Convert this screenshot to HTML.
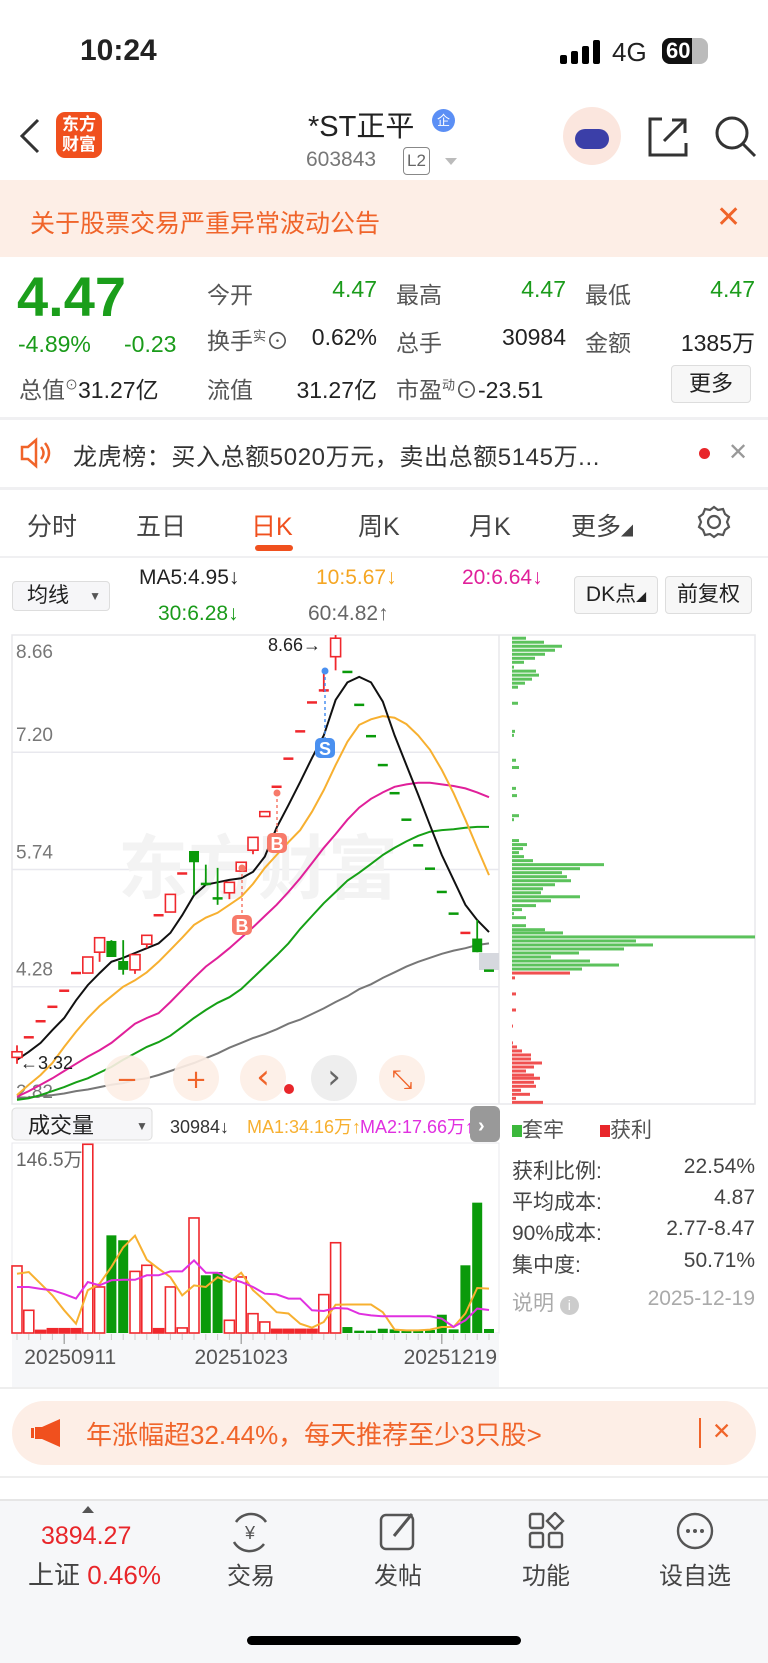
<!DOCTYPE html>
<html><head><meta charset="utf-8">
<style>
*{margin:0;padding:0;box-sizing:border-box}
body{width:768px;height:1663px;background:#fff;font-family:"Liberation Sans","Noto Sans CJK SC",sans-serif;position:relative;overflow:hidden;color:#222}
.a{position:absolute;white-space:nowrap}
.g{color:#1a9b1a}.r{color:#e8262a}
</style></head><body>
<!-- status bar -->
<div class="a" style="left:80px;top:34px;font-size:30px;font-weight:bold">10:24</div>
<svg class="a" style="left:560px;top:40px" width="42" height="24"><rect x="0" y="15" width="7" height="9" rx="2"/><rect x="11" y="11" width="7" height="13" rx="2"/><rect x="22" y="6" width="7" height="18" rx="2"/><rect x="33" y="0" width="7" height="24" rx="2"/></svg>
<div class="a" style="left:612px;top:37px;font-size:26px">4G</div>
<div class="a" style="left:662px;top:38px;width:46px;height:26px;border-radius:8px;background:#bbb;overflow:hidden"><div style="width:30px;height:26px;background:#111"></div><div style="position:absolute;left:4px;top:0;color:#fff;font-weight:bold;font-size:22px">60</div></div>
<!-- nav -->
<svg class="a" style="left:18px;top:118px" width="24" height="36"><path d="M20 2 L4 18 L20 34" stroke="#333" stroke-width="3" fill="none"/></svg>
<div class="a" style="left:56px;top:112px;width:46px;height:46px;background:#f0501e;border-radius:9px;color:#fff;font-weight:bold;font-size:17px;line-height:20px;text-align:center;padding-top:3px">东方<br>财富</div>
<div class="a" style="left:308px;top:103px;font-size:29px;color:#222">*ST正平</div>
<div class="a" style="left:432px;top:109px;width:23px;height:23px;border-radius:50%;background:#5b8ff5;color:#fff;font-size:13px;text-align:center;line-height:23px">企</div>
<div class="a" style="left:306px;top:148px;font-size:21px;color:#777">603843</div>
<div class="a" style="left:403px;top:147px;width:27px;height:28px;border:1px solid #888;border-radius:4px;font-size:17px;color:#666;text-align:center;line-height:26px">L2</div>
<div class="a" style="left:445px;top:158px;border-left:6px solid transparent;border-right:6px solid transparent;border-top:7px solid #bbb"></div>
<div class="a" style="left:563px;top:107px;width:58px;height:58px;border-radius:50%;background:#fbe6de"><div style="position:absolute;left:12px;top:22px;width:34px;height:20px;border-radius:10px;background:#3b3fa8"></div></div>
<svg class="a" style="left:646px;top:115px" width="44" height="44"><path d="M16 4 H4 V40 H40 V28" stroke="#333" stroke-width="3" fill="none"/><path d="M18 26 L38 6 M26 5 H39 V18" stroke="#333" stroke-width="3" fill="none"/></svg>
<svg class="a" style="left:714px;top:115px" width="44" height="44"><circle cx="18" cy="18" r="15" stroke="#333" stroke-width="3" fill="none"/><path d="M29 29 L41 41" stroke="#333" stroke-width="3"/></svg>
<!-- banner -->
<div class="a" style="left:0;top:180px;width:768px;height:77px;background:#fdeee6"></div>
<div class="a" style="left:30px;top:204px;font-size:25px;color:#f0642a">关于股票交易严重异常波动公告</div>
<div class="a" style="left:716px;top:200px;font-size:30px;color:#f0642a">✕</div>
<!-- quote -->
<div class="a g" style="left:17px;top:264px;font-size:56px;font-weight:bold;color:#1b9e1b">4.47</div>
<div class="a g" style="left:18px;top:331px;font-size:23px">-4.89%</div>
<div class="a g" style="left:124px;top:331px;font-size:23px">-0.23</div>
<div style="font-size:23px">
<div class="a" style="left:207px;top:276px;color:#555">今开</div>
<div class="a g" style="right:391px;top:276px">4.47</div>
<div class="a" style="left:396px;top:276px;color:#555">最高</div>
<div class="a g" style="right:202px;top:276px">4.47</div>
<div class="a" style="left:585px;top:276px;color:#555">最低</div>
<div class="a g" style="right:13px;top:276px">4.47</div>
<div class="a" style="left:207px;top:322px;color:#555">换手<sup style="font-size:13px">实</sup>⊙</div>
<div class="a" style="right:391px;top:324px">0.62%</div>
<div class="a" style="left:396px;top:324px;color:#555">总手</div>
<div class="a" style="right:202px;top:324px">30984</div>
<div class="a" style="left:585px;top:324px;color:#555">金额</div>
<div class="a" style="right:13px;top:324px">1385万</div>
<div class="a" style="left:19px;top:371px;color:#555">总值<sup style="font-size:13px">⊙</sup><span style="color:#222">31.27亿</span></div>
<div class="a" style="left:207px;top:371px;color:#555">流值</div>
<div class="a" style="right:391px;top:371px">31.27亿</div>
<div class="a" style="left:396px;top:371px;color:#555">市盈<sup style="font-size:13px">动</sup>⊙<span style="color:#222">-23.51</span></div>
</div>
<div class="a" style="left:671px;top:365px;width:80px;height:38px;border:1px solid #ddd;border-radius:4px;background:#f7f7f7;font-size:22px;text-align:center;line-height:36px">更多</div>
<div class="a" style="left:0;top:417px;width:768px;height:3px;background:#f0f0f2"></div>
<!-- dragon tiger -->
<svg class="a" style="left:19px;top:437px" width="34" height="32"><path d="M3 10 H9 L17 3 V29 L9 22 H3 Z" stroke="#f0642a" stroke-width="2.5" fill="none"/><path d="M22 10 Q27 16 22 22 M26 6 Q34 16 26 26" stroke="#f0642a" stroke-width="2.5" fill="none"/></svg>
<div class="a" style="left:73px;top:437px;font-size:24px;letter-spacing:0.6px;color:#333">龙虎榜：买入总额5020万元，卖出总额5145万...</div>
<div class="a" style="left:699px;top:448px;width:11px;height:11px;border-radius:50%;background:#e8262a"></div>
<div class="a" style="left:728px;top:438px;font-size:24px;color:#999">✕</div>
<div class="a" style="left:0;top:487px;width:768px;height:3px;background:#f0f0f2"></div>
<!-- tabs -->
<div style="font-size:25px;color:#444">
<div class="a" style="left:27px;top:507px">分时</div>
<div class="a" style="left:136px;top:507px">五日</div>
<div class="a" style="left:251px;top:507px;color:#f0501e">日K</div>
<div class="a" style="left:358px;top:507px">周K</div>
<div class="a" style="left:469px;top:507px">月K</div>
<div class="a" style="left:571px;top:507px">更多<span style="font-size:12px">◢</span></div>
</div>
<div class="a" style="left:255px;top:545px;width:38px;height:6px;border-radius:3px;background:#f0501e"></div>
<svg class="a" style="left:697px;top:505px" width="34" height="34"><circle cx="17" cy="17" r="6" stroke="#555" stroke-width="2.2" fill="none"/><path d="M17 2 L21 5 L26 4 L28 9 L32 12 L30 17 L32 22 L28 25 L26 30 L21 29 L17 32 L13 29 L8 30 L6 25 L2 22 L4 17 L2 12 L6 9 L8 4 L13 5 Z" stroke="#555" stroke-width="2.2" fill="none"/></svg>
<div class="a" style="left:0;top:556px;width:768px;height:2px;background:#f0f0f2"></div>
<!-- MA header -->
<div class="a" style="left:12px;top:581px;width:98px;height:30px;border:1px solid #ddd;border-radius:4px;background:#f6f6f8;font-size:21px;padding-left:14px;line-height:28px">均线<span style="font-size:12px;position:absolute;right:8px;color:#555">▼</span></div>
<div class="a" style="left:139px;top:566px;font-size:21px">MA5:4.95↓</div>
<div class="a" style="left:316px;top:566px;font-size:21px;color:#f5a623">10:5.67↓</div>
<div class="a" style="left:462px;top:566px;font-size:21px;color:#e0209a">20:6.64↓</div>
<div class="a" style="left:158px;top:602px;font-size:21px;color:#1a9b1a">30:6.28↓</div>
<div class="a" style="left:308px;top:602px;font-size:21px;color:#666">60:4.82↑</div>
<div class="a" style="left:574px;top:576px;width:84px;height:38px;border:1px solid #ddd;border-radius:4px;background:#f7f7f7;font-size:21px;text-align:center;line-height:36px">DK点<span style="font-size:10px">◢</span></div>
<div class="a" style="left:665px;top:576px;width:87px;height:38px;border:1px solid #ddd;border-radius:4px;background:#f7f7f7;font-size:21px;text-align:center;line-height:36px">前复权</div>

<svg id="chart" class="a" style="left:0;top:0" width="768" height="1400"></svg>

<!-- chip legend/stats -->
<div class="a" style="left:512px;top:1114px;font-size:21px;color:#555"><span style="display:inline-block;width:10px;height:12px;background:#3cb83c"></span>套牢</div>
<div class="a" style="left:600px;top:1114px;font-size:21px;color:#555"><span style="display:inline-block;width:10px;height:12px;background:#e8262a"></span>获利</div>
<div style="font-size:21px;color:#444">
<div class="a" style="left:512px;top:1155px">获利比例:</div><div class="a" style="right:13px;top:1155px">22.54%</div>
<div class="a" style="left:512px;top:1186px">平均成本:</div><div class="a" style="right:13px;top:1186px">4.87</div>
<div class="a" style="left:512px;top:1217px">90%成本:</div><div class="a" style="right:13px;top:1217px">2.77-8.47</div>
<div class="a" style="left:512px;top:1249px">集中度:</div><div class="a" style="right:13px;top:1249px">50.71%</div>
<div class="a" style="left:512px;top:1287px;color:#aaa">说明 <span style="display:inline-block;width:19px;height:19px;border-radius:50%;background:#ccc;color:#fff;font-size:14px;text-align:center;line-height:19px">i</span></div>
<div class="a" style="right:13px;top:1287px;color:#aaa">2025-12-19</div>
</div>
<div class="a" style="left:0;top:1387px;width:768px;height:2px;background:#eee"></div>
<!-- promo -->
<div class="a" style="left:12px;top:1401px;width:744px;height:64px;border-radius:32px;background:#fdeee6"></div>
<svg class="a" style="left:30px;top:1418px" width="32" height="30"><rect x="1" y="10" width="3" height="10" fill="#f0501e"/><path d="M5 9 H12 L30 1 V29 L12 21 H5 Z" fill="#f0501e"/></svg>
<div class="a" style="left:86px;top:1415px;font-size:26px;color:#f0642a">年涨幅超32.44%，每天推荐至少3只股&gt;</div>
<div class="a" style="left:699px;top:1418px;width:2px;height:30px;background:#f0642a"></div>
<div class="a" style="left:712px;top:1418px;font-size:23px;color:#f0642a">✕</div>
<div class="a" style="left:0;top:1476px;width:768px;height:2px;background:#eee"></div>
<!-- bottom nav -->
<div class="a" style="left:0;top:1499px;width:768px;height:164px;background:#f6f7f9;border-top:2px solid #e6e6e6"></div>
<div class="a" style="left:82px;top:1506px;border-left:6px solid transparent;border-right:6px solid transparent;border-bottom:7px solid #555"></div>
<div class="a r" style="left:41px;top:1522px;font-size:25px">3894.27</div>
<div class="a" style="left:28px;top:1555px;font-size:26px;color:#444">上证 <span class="r">0.46%</span></div>
<svg class="a" style="left:228px;top:1510px" width="44" height="44"><path d="M8 12 A18 18 0 0 1 38 12 M36 34 A18 18 0 0 1 6 32" stroke="#555" stroke-width="2.5" fill="none"/><text x="22" y="29" font-size="18" text-anchor="middle" fill="#555" font-family="Liberation Sans">¥</text></svg>
<div class="a" style="left:227px;top:1556px;font-size:24px;color:#444">交易</div>
<svg class="a" style="left:378px;top:1510px" width="40" height="42"><rect x="3" y="5" width="32" height="34" rx="5" stroke="#555" stroke-width="2.5" fill="none"/><path d="M16 26 L34 4" stroke="#555" stroke-width="3"/></svg>
<div class="a" style="left:374px;top:1556px;font-size:24px;color:#444">发帖</div>
<svg class="a" style="left:528px;top:1512px" width="38" height="38"><rect x="2" y="2" width="13" height="14" rx="2" stroke="#555" stroke-width="2.4" fill="none"/><rect x="2" y="21" width="13" height="14" rx="2" stroke="#555" stroke-width="2.4" fill="none"/><rect x="21" y="21" width="13" height="14" rx="2" stroke="#555" stroke-width="2.4" fill="none"/><path d="M27 1 L35 9 L27 17 L19 9 Z" stroke="#555" stroke-width="2.4" fill="none"/></svg>
<div class="a" style="left:522px;top:1556px;font-size:24px;color:#444">功能</div>
<svg class="a" style="left:675px;top:1511px" width="40" height="40"><circle cx="20" cy="20" r="17" stroke="#555" stroke-width="2.4" fill="none"/><circle cx="13" cy="20" r="2" fill="#555"/><circle cx="20" cy="20" r="2" fill="#555"/><circle cx="27" cy="20" r="2" fill="#555"/></svg>
<div class="a" style="left:659px;top:1556px;font-size:24px;color:#444">设自选</div>
<div class="a" style="left:247px;top:1636px;width:274px;height:9px;border-radius:5px;background:#000"></div>

<script>
// ---- price data (41 daily candles) ----
const opens  =[3.40,3.65,3.85,4.03,4.23,4.45,4.45,4.71,4.85,4.60,4.49,4.81,5.17,5.21,5.69,5.97,5.56,5.38,5.45,5.72,5.98,6.40,6.77,7.12,7.46,7.82,7.96,8.39,8.20,7.79,7.40,7.04,6.69,6.36,6.04,5.75,5.46,5.19,4.95,4.88,4.48];
const closes =[3.47,3.65,3.85,4.03,4.23,4.45,4.65,4.89,4.65,4.49,4.68,4.92,5.17,5.43,5.69,5.83,5.55,5.35,5.58,5.83,6.14,6.46,6.77,7.12,7.46,7.82,7.97,8.62,8.20,7.79,7.40,7.04,6.69,6.36,6.04,5.75,5.46,5.19,4.95,4.71,4.47];
const highs  =[3.55,3.65,3.85,4.03,4.23,4.45,4.65,4.89,4.86,4.86,4.68,4.92,5.17,5.43,5.69,5.97,5.80,5.76,5.58,5.83,6.14,6.46,6.77,7.12,7.46,7.82,8.21,8.66,8.20,7.79,7.40,7.04,6.69,6.36,6.04,5.75,5.46,5.19,4.95,5.11,4.48];
const lows   =[3.32,3.65,3.85,4.03,4.23,4.45,4.45,4.59,4.65,4.43,4.44,4.76,5.17,5.21,5.69,5.42,5.54,5.30,5.37,5.71,5.93,6.40,6.77,7.12,7.46,7.82,7.95,8.22,8.20,7.79,7.40,7.04,6.69,6.36,6.04,5.75,5.46,5.19,4.95,4.71,4.47];
const ma5  =[3.37,3.47,3.58,3.74,3.89,4.11,4.30,4.45,4.59,4.64,4.70,4.76,4.82,4.95,5.17,5.42,5.55,5.58,5.61,5.63,5.71,5.90,6.26,6.54,6.83,7.13,7.41,7.85,8.07,8.14,8.07,7.83,7.41,7.04,6.67,6.29,5.92,5.61,5.30,5.11,4.96];
const ma10 =[2.93,3.06,3.18,3.33,3.53,3.72,3.89,4.04,4.16,4.28,4.36,4.46,4.59,4.74,4.89,5.05,5.14,5.20,5.30,5.40,5.56,5.76,5.92,6.08,6.23,6.46,6.73,7.04,7.33,7.54,7.61,7.65,7.63,7.55,7.41,7.23,6.98,6.69,6.36,6.01,5.67];
const ma20 =[2.91,2.98,3.06,3.14,3.23,3.32,3.41,3.49,3.58,3.70,3.82,3.89,3.95,4.09,4.24,4.39,4.53,4.64,4.76,4.89,5.02,5.16,5.30,5.46,5.63,5.82,6.01,6.18,6.36,6.51,6.62,6.70,6.77,6.80,6.82,6.82,6.80,6.78,6.75,6.70,6.64];
const ma30 =[2.87,2.89,2.93,2.98,3.03,3.09,3.14,3.21,3.28,3.37,3.45,3.53,3.59,3.67,3.78,3.89,3.99,4.08,4.15,4.25,4.39,4.53,4.67,4.82,5.00,5.16,5.32,5.46,5.60,5.70,5.81,5.92,6.01,6.09,6.16,6.21,6.23,6.24,6.26,6.27,6.27];
const ma60 =[2.89,2.90,2.92,2.93,2.95,2.98,3.00,3.03,3.06,3.08,3.12,3.14,3.18,3.23,3.28,3.33,3.39,3.45,3.52,3.58,3.64,3.69,3.75,3.82,3.87,3.94,4.01,4.09,4.16,4.25,4.31,4.39,4.46,4.53,4.59,4.64,4.69,4.73,4.76,4.80,4.82];
const priceTicks=["8.66","7.20","5.74","4.28","2.82"];
// ---- volume (万手) ----
const volumes=[51.7,17.5,2,3.3,3.3,3.3,145.5,35.5,75.3,71.5,47.5,52.2,3.3,35.5,3.9,88.7,44.5,47,9.8,43.2,14.9,8.5,2.8,2.8,2.8,2.8,29.6,69.6,4.6,1.8,1.8,3.3,2.8,2.3,2.3,2.3,14.1,2.8,52.2,100.5,3.1];
const volUp=[1,1,1,1,1,1,1,1,0,0,1,1,1,1,1,1,0,0,1,1,1,1,1,1,1,1,1,1,0,0,0,0,0,0,0,0,0,0,0,0,0];
const volMa1=[45.7,47,38,29,17.5,7.2,33,38,51,66,75,56.5,49.6,43,29,36.7,35.5,43,39.3,46.5,33,25,16,15,7.2,4.1,8.5,21.8,22,22,22,16,2.6,2,2,2.6,4.6,4.6,15,34.7,34.2];
const volMa2=[35.5,35.5,34,33,30,26.5,39.3,36.8,40.6,41,41,44.5,44.5,47.5,47.5,56,46.5,46.5,42,39.3,35.5,30.3,29.8,26.5,26.5,17.5,17,19.3,18.8,14.9,13.6,12.9,12.9,12.9,12.9,12.9,11,4.6,9.8,18.8,17.7];
const dateLabels=["20250911","20251023","20251219"];
const dateIdx=[4,19,36];
// ---- chip distribution ----
const chipPrice=[8.62,8.57,8.52,8.47,8.42,8.37,8.32,8.26,8.21,8.16,8.11,8.06,8.01,7.81,7.46,7.41,7.10,7.01,6.75,6.66,6.41,6.36,6.10,6.05,6.00,5.95,5.90,5.85,5.80,5.75,5.70,5.65,5.60,5.55,5.50,5.45,5.40,5.35,5.29,5.24,5.19,5.14,5.04,4.99,4.95,4.90,4.85,4.80,4.75,4.70,4.65,4.60,4.55,4.50,4.45,4.39,4.19,3.99,3.79,3.58,3.53,3.48,3.43,3.38,3.33,3.28,3.23,3.18,3.14,3.09,3.04,2.99,2.94,2.89,2.84];
const chipAmount=[14,32,50,43,33,23,12,2,24,27,20,13,6,6,3,2,4,7,4,5,7,2,7,15,11,7,12,21,92,68,50,55,59,43,31,29,68,39,24,10,2,14,14,33,51,243,124,141,112,67,39,78,107,70,58,3,4,4,1,1,5,10,19,19,30,22,14,22,28,22,24,9,18,4,31];
const lastPrice=4.47;

const svg=document.getElementById('chart');
const NS='http://www.w3.org/2000/svg';
function mk(tag,attrs){const e=document.createElementNS(NS,tag);for(const k in attrs)e.setAttribute(k,attrs[k]);svg.appendChild(e);return e;}
const xOf=i=>17+i*11.8;
const yP=p=>635+(8.66-p)*80.3;
const yV=v=>1333-v*(190/146.5);
const RED='#f0282d',GRN='#0a9a0a';

let e;
e=mk('rect',{x:12,y:635,width:743,height:469,fill:'none',stroke:'#e8e8ec','stroke-width':1.5});


e=mk('line',{x1:499,y1:635,x2:499,y2:1104,stroke:'#e8e8ec','stroke-width':1.5});


priceTicks.forEach((t,k)=>{
  const y=yP(parseFloat(t));
  if(k>0&&k<4){const g=mk('line',{x1:12,y1:y,x2:499,y2:y,stroke:'#e8e8ee','stroke-width':1.5});
  
  }
  const tx=mk('text',{x:16,y:k==0?y+23:(k==4?y-6:y-11),'font-size':19,fill:'#777','font-family':'Liberation Sans'});
  tx.textContent=t;
  
  
});
e=mk('text',{x:118,y:893,'font-size':70,fill:'#f3f3f3','font-weight':'bold','font-family':'Noto Sans CJK SC, sans-serif'});
e.textContent='东方财富';


chipPrice.forEach((p,k)=>{
  const r=mk('rect',{x:512,y:yP(p)-1.5,width:chipAmount[k],height:3,fill:p<lastPrice?'#f05050':'#5cc25c'});
  
  
});
e=mk('rect',{x:479,y:953,width:20,height:17,fill:'#d6d8de'});


[[ma60,'#777'],[ma30,'#16a016'],[ma20,'#e0209a'],[ma10,'#f7b030'],[ma5,'#111']].forEach(([arr,c])=>{
  const d=arr.map((v,i)=>(i?'L':'M')+xOf(i).toFixed(1)+' '+yP(v).toFixed(1)).join(' ');
  const l=mk('path',{d:d,stroke:c,'stroke-width':2,fill:'none'});
  
  
});
opens.forEach((o,i)=>{
  const c=closes[i],h=highs[i],lo=lows[i],x=xOf(i);
  const up=c>o||(c==o&&i<=27)||i==38;
  const col=up?RED:GRN;
  const w=mk('line',{x1:x,y1:yP(h),x2:x,y2:yP(lo),stroke:col,'stroke-width':1.8});
  
  
  const top=yP(Math.max(o,c)),bh=Math.max(Math.abs(yP(o)-yP(c)),2.5);
  const b=mk('rect',{x:x-5,y:top-(bh==2.5?1.25:0),width:10,height:bh,fill:(up&&bh>4)?'#fff':col,stroke:col,'stroke-width':(up&&bh>4)?1.6:0});
  
  
});
e=mk('text',{x:268,y:651,'font-size':18,fill:'#222','font-family':'Liberation Sans'});e.textContent='8.66→';


e=mk('text',{x:20,y:1069,'font-size':18,fill:'#222','font-family':'Liberation Sans'});e.textContent='←3.32';


[[242,925,'B','#f77a6a',868],[277,843,'B','#f77a6a',793],[325,748,'S','#4a90f0',671]].forEach(([x,y,t,c,y0])=>{
  const l=mk('line',{x1:x,y1:y0,x2:x,y2:y,stroke:c,'stroke-width':1.5,'stroke-dasharray':'3,3'});
  
  
  const d=mk('circle',{cx:x,cy:y0,r:3.5,fill:c});
  
  
  const r=mk('rect',{x:x-10,y:y-10,width:20,height:20,rx:5,fill:c});
  
  
  const tx=mk('text',{x:x,y:y+7,'font-size':18,'font-weight':'bold',fill:'#fff','text-anchor':'middle','font-family':'Liberation Sans'});tx.textContent=t;
  
  
});
[[127,'−','#fdeee6','#f0642a'],[196,'+','#fdeee6','#f0642a'],[263,'‹','#fdeee6','#f0642a'],[334,'›','#ececec','#666'],[402,'⤡','#fdeee6','#f0642a']].forEach(([x,t,bg,fg])=>{
  const c=mk('circle',{cx:x,cy:1078,r:23,fill:bg,opacity:0.9});
  
  
  const tx=mk('text',{x:x,y:1088,'font-size':t=='‹'||t=='›'?34:26,fill:fg,'text-anchor':'middle','font-family':'DejaVu Sans'});tx.textContent=t;
  
  
});
e=mk('circle',{cx:289,cy:1089,r:5,fill:'#e8262a'});



e=mk('rect',{x:12,y:1108,width:140,height:32,rx:4,fill:'#f6f6f8',stroke:'#ddd'});


e=mk('text',{x:28,y:1133,'font-size':22,fill:'#222','font-family':'Noto Sans CJK SC, sans-serif'});e.textContent='成交量';


e=mk('text',{x:136,y:1130,'font-size':12,fill:'#555'});e.textContent='▼';


[[170,'30984↓','#333'],[247,'MA1:34.16万↑','#f7b030'],[360,'MA2:17.66万↑','#e030e0']].forEach(([x,t,c])=>{
  const tx=mk('text',{x:x,y:1133,'font-size':18,fill:c,'font-family':'Liberation Sans, Noto Sans CJK SC, sans-serif'});tx.textContent=t;
  
  
});
e=mk('rect',{x:470,y:1106,width:30,height:36,rx:6,fill:'#999'});


e=mk('text',{x:478,y:1132,'font-size':20,fill:'#fff','font-weight':'bold'});e.textContent='›';


e=mk('rect',{x:12,y:1143,width:487,height:190,fill:'#fff',stroke:'#e8e8ec'});


e=mk('rect',{x:12,y:1333,width:487,height:54,fill:'#f6f7f9'});


e=mk('text',{x:16,y:1166,'font-size':19,fill:'#666','font-family':'Liberation Sans, Noto Sans CJK SC, sans-serif'});e.textContent='146.5万';


volumes.forEach((v,i)=>{
  const x=xOf(i),y=yV(v),h=1333-y;
  const r=mk('rect',{x:x-5,y:y,width:10,height:h,fill:volUp[i]?(h>5?'#fff':RED):GRN,stroke:volUp[i]?RED:'none','stroke-width':1.6});
  
  
  const t=mk('line',{x1:x,y1:1334,x2:x,y2:1340,stroke:'#ccc','stroke-width':1});
  
  
});
[[volMa1,'#f7b030'],[volMa2,'#e030e0']].forEach(([arr,c])=>{
  const d=arr.map((v,i)=>(i?'L':'M')+xOf(i).toFixed(1)+' '+yV(v).toFixed(1)).join(' ');
  const l=mk('path',{d:d,stroke:c,'stroke-width':2,fill:'none'});
  
  
});
dateLabels.forEach((t,k)=>{
  const x=xOf(dateIdx[k]);
  const tk=mk('line',{x1:x,y1:1334,x2:x,y2:1344,stroke:'#999','stroke-width':1.2});
  
  
  const tx=mk('text',{x:k==2?497:(k==0?x+6:x),y:1364,'font-size':21,fill:'#555','text-anchor':k==2?'end':'middle','font-family':'Liberation Sans'});tx.textContent=t;
  
  
});
</script>
</body></html>
